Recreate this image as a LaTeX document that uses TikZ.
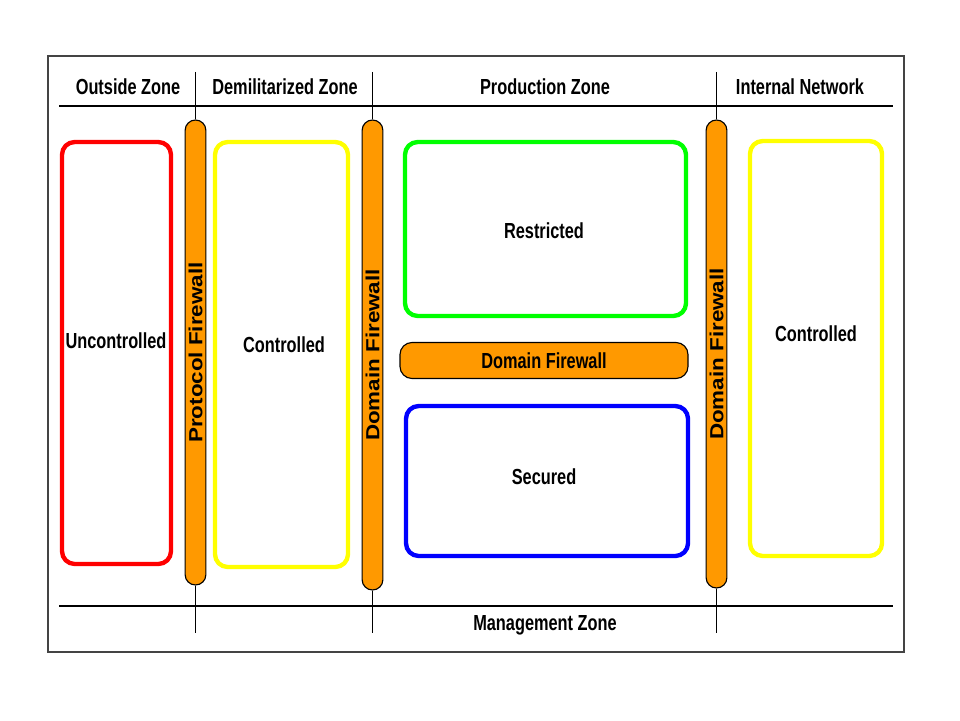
\documentclass[tikz,border=0pt]{standalone}
\usepackage{fontspec}
\setmainfont{Liberation Sans}
\newfontfamily\narrowfont{Liberation Sans}[FakeStretch=0.75]
\newfontfamily\wallfont{Liberation Sans}[FakeStretch=1.18]
\usepackage{tikz}
\usetikzlibrary{positioning}
\definecolor{Ink}{HTML}{000000}
\definecolor{Wall}{HTML}{FF9900}
\definecolor{ZoneRed}{HTML}{FF0000}
\definecolor{ZoneYellow}{HTML}{FFFF00}
\definecolor{ZoneGreen}{HTML}{00FF00}
\definecolor{ZoneBlue}{HTML}{0000FF}
\definecolor{Frame}{HTML}{444444}

\begin{document}
\begin{tikzpicture}[
  zonetitle/.style={font=\narrowfont\bfseries\fontsize{15.5}{18}\selectfont, text=Ink, inner sep=0pt},
  zonebox/.style={draw=#1, line width=3.1pt, rounded corners=9pt, fill=white, inner sep=0pt},
  vwall/.style={draw=Ink, line width=0.8pt, fill=Wall, rounded corners=0.26cm, minimum width=0.52cm, inner sep=0pt},
  hwall/.style={draw=Ink, line width=0.8pt, fill=Wall, rounded corners=0.3cm, minimum width=7.2cm, minimum height=0.9cm, inner sep=0pt},
  walltext/.style={font=\wallfont\bfseries\fontsize{13.5}{16}\selectfont, text=Ink, rotate=90, inner sep=0pt},
  divider/.style={draw=Ink, line width=0.6pt},
  band/.style={draw=Ink, line width=2pt}
]
\useasboundingbox (0,0) rectangle (24,18);

% outer frame
\draw[draw=Frame, line width=0.8pt] (1.2,1.7) rectangle (22.6,16.6);
\draw[draw=Frame, line width=1.4pt] (1.2,16.6) -- (22.6,16.6);
\draw[draw=Frame, line width=1.6pt] (1.2,1.7) -- (22.6,1.7);

% zone headings
\node[zonetitle] (outside) at (3.2,15.825) {Outside Zone};
\node[zonetitle] (dmz) at (7.125,15.825) {Demilitarized Zone};
\node[zonetitle] (prod) at (13.625,15.825) {Production Zone};
\node[zonetitle] (internal) at (20.0,15.825) {Internal Network};
\node[zonetitle] (mgmt) at (13.625,2.375) {Management Zone};

\coordinate (bandTL) at (1.475,15.35);
\coordinate (bandTR) at (22.325,15.35);
\coordinate (bandBL) at (1.475,2.85);
\coordinate (bandBR) at (22.325,2.85);
\draw[band] (bandTL) -- (bandTR);
\draw[band] (bandBL) -- (bandBR);

% zones
\node[zonebox=ZoneRed, minimum width=2.725cm, minimum height=10.55cm] (uncontrolled) at (2.9125,9.175) {};
\node[zonebox=ZoneYellow, minimum width=3.325cm, minimum height=10.625cm] (dmzbox) at (7.0375,9.1375) {};
\node[zonebox=ZoneGreen, minimum width=7.025cm, minimum height=4.35cm] (restricted) at (13.6375,12.275) {};
\node[zonebox=ZoneBlue, minimum width=7.05cm, minimum height=3.75cm] (secured) at (13.675,5.975) {};
\node[zonebox=ZoneYellow, minimum width=3.3cm, minimum height=10.375cm] (intbox) at (20.4,9.2875) {};

\node[zonetitle] (uncontrolledlbl) at (2.9,9.475) {Uncontrolled};
\node[zonetitle] (dmzlbl) at (7.1,9.375) {Controlled};
\node[zonetitle] (restrictedlbl) at (13.6,12.225) {Restricted};
\node[zonetitle] (securedlbl) at (13.6,6.075) {Secured};
\node[zonetitle] (intlbl) at (20.4,9.65) {Controlled};

% firewalls
\node[vwall, minimum height=11.625cm] (protofw) at (4.8875,9.1875) {};
\node[vwall, minimum height=11.75cm] (domfwA) at (9.3125,9.125) {};
\node[vwall, minimum height=11.7cm] (domfwB) at (17.9125,9.15) {};
\node[hwall] (domfwC) at (13.6,8.9875) {};

\node[walltext] (protofwlbl) at (protofw) {Protocol Firewall};
\node[walltext] (domfwAlbl) at (domfwA) {Domain Firewall};
\node[walltext] (domfwBlbl) at (domfwB) {Domain Firewall};
\node[zonetitle] (domfwClbl) at (domfwC) {Domain Firewall};

% zone dividers
\coordinate (divAtop) at (4.8875,16.2);
\coordinate (divAbot) at (4.8875,2.175);
\coordinate (divBtop) at (9.3125,16.2);
\coordinate (divBbot) at (9.3125,2.175);
\coordinate (divCtop) at (17.9125,16.2);
\coordinate (divCbot) at (17.9125,2.175);
\draw[divider] (divAtop) -- (protofw.north);
\draw[divider] (protofw.south) -- (divAbot);
\draw[divider] (divBtop) -- (domfwA.north);
\draw[divider] (domfwA.south) -- (divBbot);
\draw[divider, line width=0.9pt] (divCtop) -- (domfwB.north);
\draw[divider] (domfwB.south) -- (divCbot);
\end{tikzpicture}
\end{document}
